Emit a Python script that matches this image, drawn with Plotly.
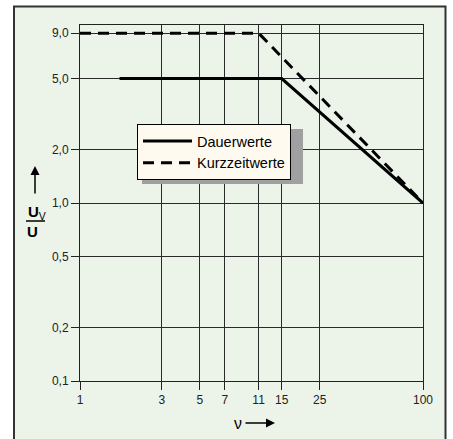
import plotly.graph_objects as go

# data
dauer_x = [1.7, 15, 100]
dauer_y = [5.0, 5.0, 1.0]
kurz_x = [1, 11, 100]
kurz_y = [9.0, 9.0, 1.0]
x_ticks = [1, 3, 5, 7, 11, 15, 25, 100]
x_labels = ["1", "3", "5", "7", "11", "15", "25", "100"]
y_ticks = [0.1, 0.2, 0.5, 1.0, 2.0, 5.0, 9.0]
y_labels = ["0,1", "0,2", "0,5", "1,0", "2,0", "5,0", "9,0"]

L, R, T, B = 80, 30, 25, 58
W, H = 453, 439
PW, PH = W - L - R, H - T - B


def px(x):
    return (x - L) / PW


def py(y):
    return (H - B - y) / PH


font = "Liberation Sans, Arial, sans-serif"

fig = go.Figure()
fig.add_trace(go.Scatter(x=dauer_x, y=dauer_y, mode="lines", name="Dauerwerte",
                         line=dict(color="black", width=3)))
fig.add_trace(go.Scatter(x=kurz_x, y=kurz_y, mode="lines", name="Kurzzeitwerte",
                         line=dict(color="black", width=3, dash="11px,7px")))

axis_common = dict(showgrid=True, gridcolor="#2a2a2a", gridwidth=1,
                   ticks="outside", ticklen=8, tickcolor="#222", tickwidth=1,
                   showline=True, linecolor="#222", linewidth=1, mirror=True,
                   zeroline=False, tickfont=dict(family=font, size=12, color="#222"))

fig.update_xaxes(type="log", range=[0, 2], tickvals=x_ticks, ticktext=x_labels, **axis_common)
fig.update_yaxes(type="log", range=[-1, 1], tickvals=y_ticks, ticktext=y_labels, **axis_common)

shapes = [
    # outer frame
    dict(type="rect", xref="paper", yref="paper", x0=px(14), x1=px(445.5), y0=py(470), y1=py(6.5),
         line=dict(color="#333", width=2), fillcolor="#ecf4ea", layer="below"),
    # legend shadow
    dict(type="rect", xref="paper", yref="paper", x0=px(142), x1=px(303), y0=py(184), y1=py(129),
         line=dict(width=0), fillcolor="#a0a0a0", layer="above"),
    # fraction line
    dict(type="line", xref="paper", yref="paper", x0=px(26), x1=px(45), y0=py(221), y1=py(221),
         line=dict(color="black", width=1.5)),
]

annotations = [
    dict(xref="paper", yref="paper", x=px(35), y=py(166), ax=0, ay=29, text="", showarrow=True,
         arrowhead=2, arrowsize=1.2, arrowwidth=1.5, arrowcolor="black"),
    dict(xref="paper", yref="paper", x=px(26), y=py(213), text="<b>U</b><sub>V</sub>", showarrow=False,
         xanchor="left", yanchor="middle", font=dict(family=font, size=15, color="black")),
    dict(xref="paper", yref="paper", x=px(32), y=py(231), text="<b>U</b>", showarrow=False,
         xanchor="center", yanchor="middle", font=dict(family=font, size=15, color="black")),
    dict(xref="paper", yref="paper", x=px(238), y=py(423), text="ν", showarrow=False,
         xanchor="center", yanchor="middle", font=dict(family=font, size=16, color="black")),
    dict(xref="paper", yref="paper", x=px(275), y=py(423), ax=-31, ay=0, text="", showarrow=True,
         arrowhead=2, arrowsize=1.2, arrowwidth=1.5, arrowcolor="black"),
]

fig.update_layout(
    width=W, height=H,
    margin=dict(l=L, r=R, t=T, b=B),
    paper_bgcolor="white",
    plot_bgcolor="#eef5fc",
    shapes=shapes,
    annotations=annotations,
    showlegend=True,
    legend=dict(x=px(137), y=py(124), xanchor="left", yanchor="top",
                bgcolor="#fffaf0", bordercolor="black", borderwidth=1,
                font=dict(family=font, size=14.5, color="black"),
                tracegroupgap=0, itemwidth=49),
)

fig.write_html("out.html", config={"displayModeBar": False},
               post_script="document.body.style.margin='0';")
